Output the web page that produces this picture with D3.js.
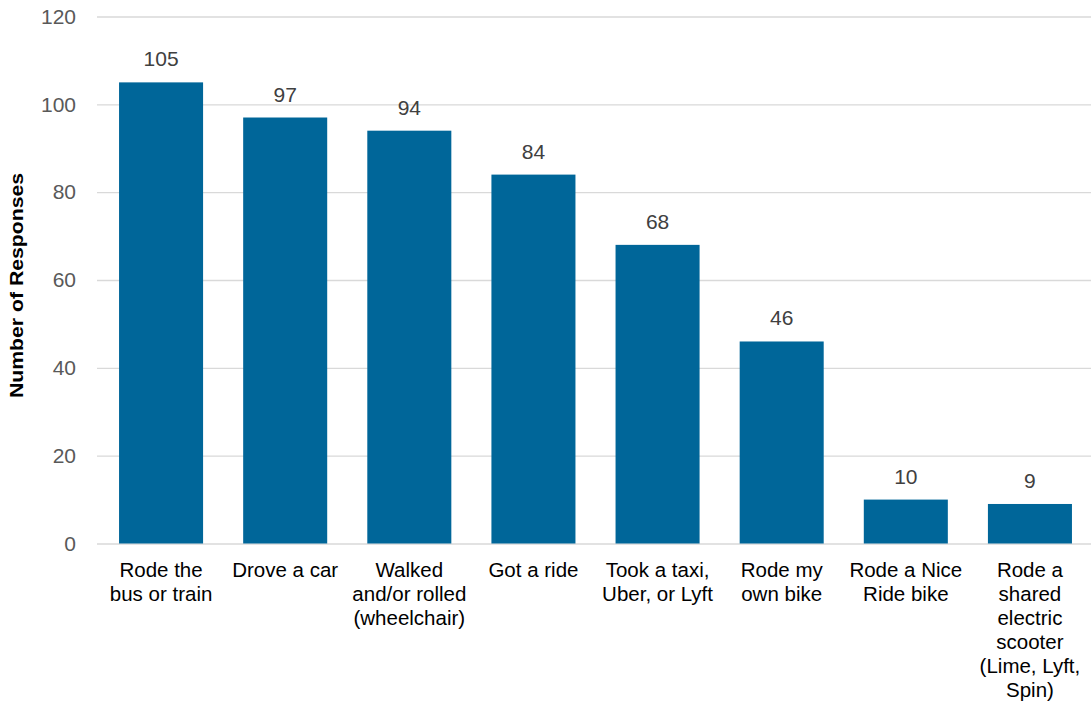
<!DOCTYPE html>
<meta charset="utf-8">
<script src="https://d3js.org/d3.v7.min.js"></script>
<style>
  body { margin: 0; background: #fff; }
  text { font-family: Arial, "Liberation Sans", sans-serif; }
</style>
<body>
<div id="chart"></div>
<script>

// chart values
var categories = ["Rode the bus or train", "Drove a car", "Walked and/or rolled (wheelchair)",
  "Got a ride", "Took a taxi, Uber, or Lyft", "Rode my own bike", "Rode a Nice Ride bike",
  "Rode a shared electric scooter (Lime, Lyft, Spin)"];
var responses = [105, 97, 94, 84, 68, 46, 10, 9];
var categoryLines = [
  ["Rode the", "bus or train"],
  ["Drove a car"],
  ["Walked", "and/or rolled", "(wheelchair)"],
  ["Got a ride"],
  ["Took a taxi,", "Uber, or Lyft"],
  ["Rode my", "own bike"],
  ["Rode a Nice", "Ride bike"],
  ["Rode a", "shared", "electric", "scooter", "(Lime, Lyft,", "Spin)"]
];
var yTicks = [0, 20, 40, 60, 80, 100, 120];

var width = 1091, height = 706;

var svg = d3.select("#chart")
  .append("svg")
    .attr("width", width)
    .attr("height", height);

var x = d3.scaleBand()
  .domain(categories)
  .range([99, 1092])
  .paddingInner(0.323)
  .paddingOuter(0.1615);

var y = d3.scaleLinear()
  .domain([0, 120])
  .range([543.5, 16.5]);

// gridlines + y labels
var yAxis = svg.append("g")
  .attr("transform", "translate(97,0)")
  .call(d3.axisLeft(y).tickValues(yTicks).tickSize(-994).tickPadding(21).tickFormat(d3.format("d")));
yAxis.select(".domain").remove();
yAxis.selectAll(".tick line").attr("stroke", "#d9d9d9").attr("stroke-width", 1.3);
yAxis.selectAll(".tick text")
  .attr("fill", "#595959")
  .style("font-size", "21px");

// bars
svg.append("g")
  .selectAll("rect")
  .data(responses)
  .enter().append("rect")
    .attr("x", function(d, i) { return x(categories[i]); })
    .attr("y", function(d) { return y(d); })
    .attr("width", x.bandwidth())
    .attr("height", function(d) { return y(0) - y(d); })
    .attr("fill", "#006699");

// value labels
svg.append("g")
  .selectAll("text")
  .data(responses)
  .enter().append("text")
    .attr("x", function(d, i) { return x(categories[i]) + x.bandwidth() / 2; })
    .attr("y", function(d) { return y(d) - 16; })
    .attr("text-anchor", "middle")
    .attr("fill", "#404040")
    .style("font-size", "21px")
    .text(function(d) { return d; });

// category labels
var cat = svg.append("g")
  .selectAll("text")
  .data(categories)
  .enter().append("text")
    .attr("x", function(d) { return x(d) + x.bandwidth() / 2; })
    .attr("y", y(0) + 33)
    .attr("text-anchor", "middle")
    .attr("fill", "#000")
    .style("font-size", "20.5px");
cat.each(function(d, i) {
  var t = d3.select(this);
  categoryLines[i].forEach(function(line, j) {
    t.append("tspan")
      .attr("x", x(d) + x.bandwidth() / 2)
      .attr("dy", j === 0 ? 0 : 24)
      .text(line);
  });
});

// y axis title
svg.append("text")
  .attr("transform", "translate(23,285.5) rotate(-90)")
  .attr("text-anchor", "middle")
  .attr("textLength", 225)
  .attr("lengthAdjust", "spacingAndGlyphs")
  .style("font-size", "19px")
  .style("font-weight", "bold")
  .attr("fill", "#000")
  .text("Number of Responses");

</script>
</body>
